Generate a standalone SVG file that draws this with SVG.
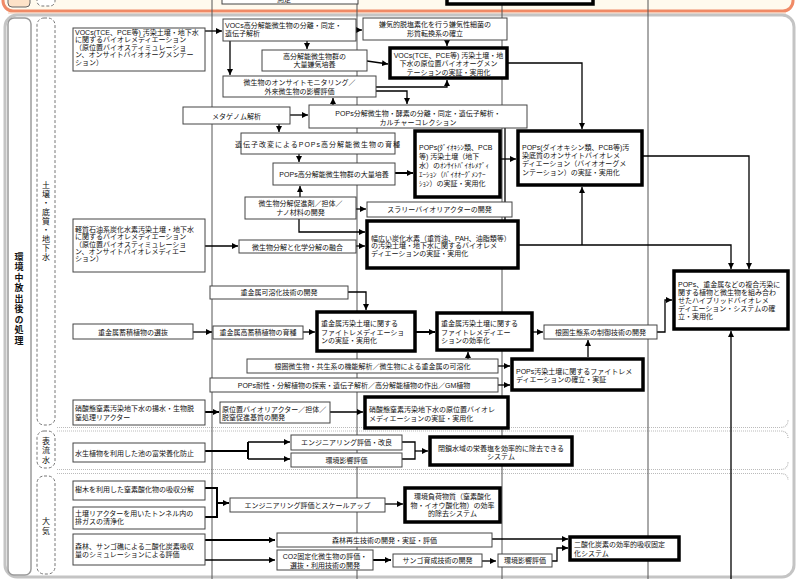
<svg xmlns="http://www.w3.org/2000/svg" width="800" height="579" viewBox="0 0 800 579">
<defs>
<marker id="ar" markerUnits="userSpaceOnUse" markerWidth="7" markerHeight="6" refX="6" refY="3" orient="auto"><path d="M0,0 L6,3 L0,6 z" fill="#000"/></marker>
<style>
.b{fill:#fff;stroke:#444;stroke-width:1}
.t{fill:#fff;stroke:#000;stroke-width:3.5}
text{font-family:"Liberation Sans","Noto Sans CJK JP","Noto Sans CJK SC",sans-serif;font-size:7px;fill:#111}
.c{text-anchor:middle}
.ln{stroke:#000;stroke-width:1.3;fill:none;marker-end:url(#ar)}
.pl{stroke:#000;stroke-width:1.3;fill:none}
.tk{stroke-width:2}
.tl{stroke:#555;stroke-width:1}
.dsh{fill:#fff;stroke:#777;stroke-width:1;stroke-dasharray:3,2}
.sep{stroke:#bbb;stroke-width:1.2;stroke-dasharray:1,1;fill:none}
.v{writing-mode:vertical-rl;text-anchor:middle;font-family:"Noto Sans CJK JP",sans-serif}
</style>
</defs>
<rect width="800" height="579" fill="#fff"/>
<rect x="3" y="-20" width="790" height="31" rx="10" fill="#fffaee" stroke="#f08a66" stroke-width="3"/>
<line x1="8" y1="13" x2="786" y2="13" stroke="#f9c9ad" stroke-width="1.2"/>
<rect x="8" y="-10" width="22" height="17" rx="4" fill="#fde2c8" stroke="#666"/>
<rect x="37" y="-10" width="18" height="16" rx="5" class="dsh"/>
<rect x="5" y="15" width="789" height="562" rx="12" fill="#fff" stroke="#c4c4c4" stroke-width="3"/>
<rect x="8" y="18" width="23" height="557" rx="6" fill="#fff" stroke="#9a9a9a" stroke-width="1.5"/>
<text class="v" x="19" y="299" style="font-size:9px;font-weight:bold;letter-spacing:1.5px">環境中放出後の処理</text>
<rect x="37" y="18" width="18" height="407" rx="7" class="dsh"/>
<text class="v" x="46" y="221" style="font-size:8px;letter-spacing:1px">土壌・底質・地下水</text>
<rect x="37" y="431" width="18" height="37" rx="7" class="dsh"/>
<text class="v" x="46" y="451" style="font-size:8px;letter-spacing:1.5px">表流水</text>
<rect x="37" y="476" width="18" height="98" rx="7" class="dsh"/>
<text class="v" x="46" y="527" style="font-size:8px;letter-spacing:2px">大気</text>
<path class="sep" d="M57,427.5 H780 Q788,427.5 788,420"/>
<path class="sep" d="M57,431 H780 Q788,431 788,438"/>
<path class="sep" d="M57,469.5 H780 Q788,469.5 788,462"/>
<path class="sep" d="M57,473.5 H780 Q788,473.5 788,480"/>
<g id="timeline">
<line class="tl" x1="212" y1="0" x2="212" y2="579"/>
<line class="tl" x1="357" y1="0" x2="357" y2="579"/>
<line class="tl" x1="502" y1="0" x2="502" y2="579"/>
<line class="tl" x1="648" y1="0" x2="648" y2="579"/>
</g>
<g id="top1"><rect class="b" x="222" y="-10" width="136" height="14"/><text class="c" x="284" y="2">測定</text></g>
<g id="top2"><rect class="t" x="447" y="-10" width="146" height="14"/></g>
<g id="connectors">
<path class="ln" d="M205,31 H222"/>
<path class="ln" d="M356,30 H362"/>
<path class="ln" d="M307,41 V49"/>
<path class="ln" d="M367,61 L388,64"/>
<path class="ln" d="M447,40 V46"/>
<path class="ln" d="M230,41 V75"/>
<path class="ln" d="M376,87 H447 V80"/>
<path class="ln" d="M376,91 H407 V104"/>
<path class="ln" d="M333,105 V98"/>
<path class="ln" d="M290,115 H308"/>
<path class="ln" d="M279,124 V132"/>
<path class="ln" d="M299,154 V162"/>
<path class="ln tk" d="M395,173 H413"/>
<path class="ln" d="M500,159 H516"/>
<path class="ln" d="M507,63 H582 V129"/>
<path class="ln" d="M642,156 H749 V269"/>
<path class="pl" d="M505,128 V220"/>
<path class="ln" d="M300,197 V186"/>
<path class="ln" d="M356,209 H366"/>
<path class="ln" d="M299,219 V232 H365"/>
<path class="ln" d="M205,246 H238"/>
<path class="ln" d="M356,246 H365"/>
<path class="ln" d="M518,245 H731 V269"/>
<path class="ln" d="M582,245 V187"/>
<path class="ln" d="M348,292 H366 V310"/>
<path class="ln" d="M193,332 H212"/>
<path class="ln" d="M303,332 H315"/>
<path class="ln tk" d="M415,332 H435"/>
<path class="ln" d="M532,332 H543"/>
<path class="ln" d="M657,332 H665 V300 H672"/>
<path class="ln" d="M731,579 V331"/>
<path class="ln" d="M588,357 V340"/>
<path class="ln" d="M468,359 V352"/>
<path class="ln" d="M498,366 H510"/>
<path class="ln" d="M498,385 H510"/>
<path class="ln tk" d="M205,412 H219"/>
<path class="ln" d="M330,412 H363"/>
<path class="pl tk" d="M205,451 H248 M248,442 V459"/>
<path class="ln" d="M248,442 H290"/>
<path class="ln" d="M248,459 H290"/>
<path class="pl" d="M402,442 H415 V459 H402"/>
<path class="ln" d="M415,451 H428"/>
<path class="pl tk" d="M205,488 H217 V517 H205"/>
<path class="ln tk" d="M217,503 H229"/>
<path class="ln" d="M385,504 H403"/>
<path class="ln tk" d="M205,540 H275"/>
<path class="ln" d="M205,560 H275"/>
<path class="ln tk" d="M373,560 H391"/>
<path class="ln" d="M482,561 H496"/>
<path class="ln" d="M552,561 H557 V548 H568"/>
<path class="ln" d="M492,539 H568"/>
</g>
<g id="n1"><rect class="b" x="73" y="28" width="132" height="43"/>
<text><tspan x="75" y="35">VOCs(TCE、PCE等) 汚染土壌・地下水</tspan><tspan x="75" y="42.4">に関するバイオレメディエーション</tspan><tspan x="75" y="49.8">（原位置バイオスティミュレーショ</tspan><tspan x="75" y="57.2">ン、オンサイトバイオオーグメンテー</tspan><tspan x="75" y="64.6">ション）</tspan></text></g>
<g id="n2"><rect class="b" x="223" y="19" width="133" height="22"/>
<text><tspan x="225" y="27.5">VOCs高分解能微生物の分離・同定・</tspan><tspan x="225" y="36">遺伝子解析</tspan></text></g>
<g id="n3"><rect class="b" x="363" y="18" width="144" height="22"/>
<text class="c"><tspan x="435" y="27">嫌気的脱塩素化を行う嫌気性細菌の</tspan><tspan x="435" y="35.5">形質転換系の確立</tspan></text></g>
<g id="n4"><rect class="b" x="262" y="50" width="105" height="21"/>
<text class="c"><tspan x="314.5" y="58.5">高分解能微生物群の</tspan><tspan x="314.5" y="67">大量嫌気培養</tspan></text></g>
<g id="n5"><rect class="t" x="390" y="48" width="117" height="30"/>
<text class="c"><tspan x="448.5" y="57.5">VOCs(TCE、PCE等) 汚染土壌・地</tspan><tspan x="448.5" y="66">下水の原位置バイオオーグメン</tspan><tspan x="448.5" y="74.5">テーションの実証・実用化</tspan></text></g>
<g id="n6"><rect class="b" x="223" y="76" width="153" height="21"/>
<text class="c"><tspan x="299.5" y="85">微生物のオンサイトモニタリング／</tspan><tspan x="299.5" y="94">外来微生物の影響評価</tspan></text></g>
<g id="n7"><rect class="b" x="183" y="107" width="107" height="17"/>
<text class="c" x="236.5" y="118.5">メタゲノム解析</text></g>
<g id="n8"><rect class="b" x="309" y="105" width="218" height="23"/>
<text class="c"><tspan x="418" y="115.5">POPs分解微生物・酵素の分離・同定・遺伝子解析・</tspan><tspan x="418" y="124.5">カルチャーコレクション</tspan></text></g>
<g id="n9"><rect class="b" x="241" y="133" width="154" height="21"/>
<text class="c" x="318" y="146.5" style="letter-spacing:1px">遺伝子改変によるPOPs高分解能微生物の育種</text></g>
<g id="n10"><rect class="b" x="273" y="163" width="122" height="22"/>
<text class="c" x="334" y="176.5">POPs高分解能微生物群の大量培養</text></g>
<g id="n11"><rect class="t" x="415" y="131" width="85" height="66"/>
<text><tspan x="419" y="150">POPs(ﾀﾞｲｵｷｼﾝ類、PCB</tspan><tspan x="419" y="158.7">等) 汚染土壌（地下</tspan><tspan x="419" y="168.3">水）のｵﾝｻｲﾄﾊﾞｲｵﾚﾒﾃﾞｨ</tspan><tspan x="419" y="177">ｴｰｼｮﾝ（ﾊﾞｲｵｵｰｸﾞﾒﾝﾃｰ</tspan><tspan x="419" y="185.5">ｼｮﾝ）の実証・実用化</tspan></text></g>
<g id="n12"><rect class="t" x="518" y="131" width="124" height="54"/>
<text><tspan x="522" y="149.5">POPs(ダイオキシン類、PCB等)汚</tspan><tspan x="522" y="157.5">染底質のオンサイトバイオレメ</tspan><tspan x="522" y="165.5">ディエーション（バイオオーグメ</tspan><tspan x="522" y="174.5">ンテーション）の実証・実用化</tspan></text></g>
<g id="n13"><rect class="b" x="245" y="197" width="111" height="22"/>
<text class="c"><tspan x="300.5" y="205.5">微生物分解促進剤／担体／</tspan><tspan x="300.5" y="215">ナノ材料の開発</tspan></text></g>
<g id="n15"><rect class="b" x="367" y="202" width="145" height="15"/>
<text class="c" x="439.5" y="212">スラリーバイオリアクターの開発</text></g>
<g id="n14"><rect class="t" x="367" y="221" width="151" height="47"/>
<text><tspan x="371" y="240.5">幅広い炭化水素（重質油、PAH、油脂類等）</tspan><tspan x="371" y="248">の汚染土壌・地下水に関するバイオレメ</tspan><tspan x="371" y="256">ディエーションの実証・実用化</tspan></text></g>
<g id="n16"><rect class="b" x="73" y="219" width="132" height="53"/>
<text><tspan x="75" y="231.5">軽質石油系炭化水素汚染土壌・地下水</tspan><tspan x="75" y="239">に関するバイオレメディエーション</tspan><tspan x="75" y="246.5">（原位置バイオスティミュレーショ</tspan><tspan x="75" y="253.5">ン、オンサイトバイオレメディエー</tspan><tspan x="75" y="260.5">ション）</tspan></text></g>
<g id="n17"><rect class="b" x="239" y="240" width="117" height="13"/>
<text class="c" x="297.5" y="249.5">微生物分解と化学分解の融合</text></g>
<g id="n18"><rect class="b" x="210" y="286" width="138" height="13"/>
<text class="c" x="279" y="295">重金属可溶化技術の開発</text></g>
<g id="n19"><rect class="b" x="73" y="324" width="120" height="15"/>
<text class="c" x="133" y="334.5">重金属蓄積植物の選抜</text></g>
<g id="n20a"><rect class="b" x="213" y="326" width="90" height="13"/>
<text class="c" x="258" y="335">重金属高蓄積植物の育種</text></g>
<g id="n20"><rect class="t" x="317" y="312" width="98" height="39"/>
<text><tspan x="321" y="325.5">重金属汚染土壌に関する</tspan><tspan x="321" y="334.5">ファイトレメディエーショ</tspan><tspan x="321" y="343">ンの実証・実用化</tspan></text></g>
<g id="n21"><rect class="t" x="437" y="313" width="95" height="37"/>
<text><tspan x="441" y="325.5">重金属汚染土壌に関する</tspan><tspan x="441" y="334.5">ファイトレメディエー</tspan><tspan x="441" y="343">ションの効率化</tspan></text></g>
<g id="n22"><rect class="b" x="544" y="325" width="113" height="14"/>
<text class="c" x="600.5" y="334.5">根圏生態系の制御技術の開発</text></g>
<g id="nfinal"><rect class="t" x="674" y="271" width="114" height="58"/>
<text><tspan x="678" y="286.5">POPs、重金属などの複合汚染に</tspan><tspan x="678" y="294.5">関する植物と微生物を組み合わ</tspan><tspan x="678" y="302.5">せたハイブリッドバイオレメ</tspan><tspan x="678" y="310.5">ディエーション・システムの確</tspan><tspan x="678" y="318.5">立・実用化</tspan></text></g>
<g id="n24"><rect class="b" x="247" y="359" width="251" height="14"/>
<text class="c" x="372.5" y="368.5">根圏微生物・共生系の機能解析／微生物による重金属の可溶化</text></g>
<g id="n25"><rect class="b" x="210" y="378" width="288" height="14"/>
<text class="c" x="354" y="387.5">POPs耐性・分解植物の探索・遺伝子解析／高分解能植物の作出／GM植物</text></g>
<g id="n23"><rect class="t" x="512" y="359" width="131" height="31"/>
<text><tspan x="516" y="373.5">POPs汚染土壌に関するファイトレメ</tspan><tspan x="516" y="382">ディエーションの確立・実証</tspan></text></g>
<g id="n26"><rect class="b" x="73" y="400" width="132" height="25"/>
<text><tspan x="75" y="410.5">硝酸態窒素汚染地下水の揚水・生物脱</tspan><tspan x="75" y="419.5">窒処理リアクター</tspan></text></g>
<g id="n27"><rect class="b" x="220" y="402" width="110" height="21"/>
<text><tspan x="222" y="411.5">原位置バイオリアクター／担体／</tspan><tspan x="222" y="420">脱窒促進基質の開発</tspan></text></g>
<g id="n28"><rect class="t" x="365" y="397" width="143" height="31"/>
<text><tspan x="369" y="411.5">硝酸態窒素汚染地下水の原位置バイオレ</tspan><tspan x="369" y="420.5">メディエーションの実証・実用化</tspan></text></g>
<g id="n29"><rect class="b" x="73" y="443" width="132" height="19"/>
<text x="75" y="455.5">水生植物を利用した池の富栄養化防止</text></g>
<g id="n30"><rect class="b" x="291" y="435" width="111" height="15"/>
<text class="c" x="346.5" y="445">エンジニアリング評価・改良</text></g>
<g id="n31"><rect class="b" x="291" y="453" width="111" height="14"/>
<text class="c" x="346.5" y="462.5">環境影響評価</text></g>
<g id="n32"><rect class="t" x="430" y="437" width="142" height="28"/>
<text class="c"><tspan x="501" y="450.5">閉鎖水域の栄養塩を効率的に除去できる</tspan><tspan x="501" y="459">システム</tspan></text></g>
<g id="n33"><rect class="b" x="73" y="481" width="132" height="19"/>
<text x="75" y="491.5">樹木を利用した窒素酸化物の吸収分解</text></g>
<g id="n34"><rect class="b" x="73" y="507" width="132" height="22"/>
<text><tspan x="75" y="515.5">土壌リアクターを用いたトンネル内の</tspan><tspan x="75" y="524">排ガスの清浄化</tspan></text></g>
<g id="n35"><rect class="b" x="73" y="534" width="132" height="31"/>
<text><tspan x="75" y="549">森林、サンゴ礁による二酸化炭素吸収</tspan><tspan x="75" y="557">量のシミュレーションによる評価</tspan></text></g>
<g id="n36"><rect class="b" x="230" y="498" width="155" height="14"/>
<text class="c" x="307.5" y="507.5">エンジニアリング評価とスケールアップ</text></g>
<g id="n37"><rect class="t" x="405" y="488" width="95" height="34"/>
<text class="c"><tspan x="452.5" y="498.5">環境負荷物質（窒素酸化</tspan><tspan x="452.5" y="507.5">物・イオウ酸化物）の効率</tspan><tspan x="452.5" y="516">的除去システム</tspan></text></g>
<g id="n38"><rect class="b" x="277" y="533" width="215" height="14"/>
<text class="c" x="384.5" y="542.5">森林再生技術の開発・実証・評価</text></g>
<g id="n39"><rect class="b" x="277" y="550" width="96" height="20"/>
<text class="c"><tspan x="325" y="559">CO2固定化微生物の評価・</tspan><tspan x="325" y="567.5">選抜・利用技術の開発</tspan></text></g>
<g id="n40"><rect class="b" x="393" y="554" width="89" height="13"/>
<text class="c" x="437.5" y="563">サンゴ育成技術の開発</text></g>
<g id="n41"><rect class="b" x="498" y="554" width="54" height="13"/>
<text class="c" x="525" y="563">環境影響評価</text></g>
<g id="n42"><rect class="t" x="570" y="537" width="109" height="23"/>
<text><tspan x="574" y="546.5">二酸化炭素の効率的吸収固定</tspan><tspan x="574" y="555.5">化システム</tspan></text></g>
</svg>
